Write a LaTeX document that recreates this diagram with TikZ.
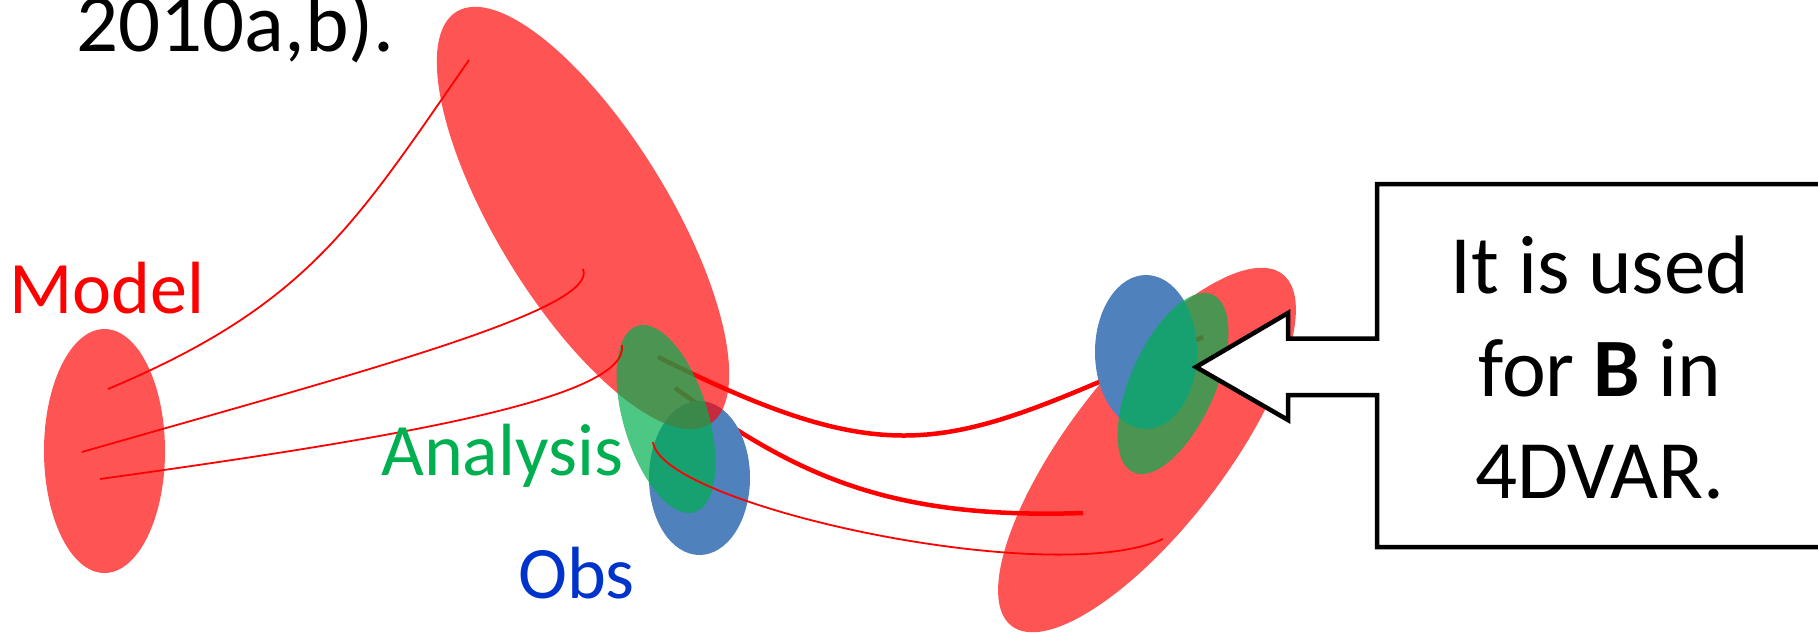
\documentclass[tikz,border=0pt]{standalone}
\usepackage{fontspec}
\setmainfont{Carlito}
\definecolor{obsblue}{HTML}{4F81BD}
\definecolor{anagreen}{HTML}{00B050}
\definecolor{obstext}{HTML}{0033CC}
\tikzset{
  modelfill/.style={fill=red, fill opacity=0.67},
  obsfill/.style={fill=obsblue},
  anafill/.style={fill=anagreen, fill opacity=0.7},
  thinlink/.style={draw=red, line width=1.8pt},
  thicklink/.style={draw=red, line width=4.5pt},
  calloutbox/.style={draw=black, fill=white, line width=4.5pt, miter limit=10},
  lbl/.style={inner sep=0pt, anchor=base west, font=\fontsize{74}{80}\selectfont},
  boxtxt/.style={inner sep=0pt, anchor=base, font=\fontsize{83}{90}\selectfont},
}
\begin{document}
\begin{tikzpicture}[x=1pt,y=-1pt]
\useasboundingbox (0,0) rectangle (1818,633);
\clip (0,0) rectangle (1818,633);

% end points of the trajectories
\coordinate (a0) at (108,389);   \coordinate (a1) at (469,60);
\coordinate (b0) at (82,452);    \coordinate (b1) at (583,269);
\coordinate (c0) at (100,479);   \coordinate (c1) at (622,345);
\coordinate (d0) at (653,442);   \coordinate (d1) at (1163,539);
\coordinate (e0) at (658,357);   \coordinate (e1) at (1203,337);
\coordinate (f0) at (675,388);   \coordinate (f1) at (1083,513);

% initial model ensemble
\fill[modelfill] (104.5,451) ellipse [x radius=60.5pt, y radius=122pt];

% thick trajectories from the analysis
\draw[thicklink] (e0) .. controls (908,482) and (953,444.5) .. (e1);
\draw[thicklink] (f0) .. controls (790,470) and (880,520) .. (f1);

% first analysis time: obs, forecast, analysis
\fill[obsfill] (699.5,478) ellipse [x radius=50.5pt, y radius=77pt];
\fill[modelfill, rotate around={-58.5:(583,218)}] (583,218) ellipse [x radius=242pt, y radius=86pt];
\fill[anafill, rotate around={-73:(666,419)}] (666,419) ellipse [x radius=97.5pt, y radius=42.3pt];

% second analysis time
\fill[modelfill, rotate around={52.4:(1147,450)}] (1147,450) ellipse [x radius=222pt, y radius=78pt];
\fill[obsfill] (1146,352) ellipse [x radius=51pt, y radius=77pt];
\fill[anafill, rotate around={66:(1173,383.5)}] (1173,383.5) ellipse [x radius=97.3pt, y radius=42.5pt];

% thin trajectories
\draw[thinlink] (a0) .. controls (308,305) and (355,224) .. (a1);
\draw[thinlink] (b0) .. controls (350,375) and (600,310) .. (b1);
\draw[thinlink] (c0) .. controls (380,440) and (630,400) .. (c1);
\draw[thinlink] (d0) .. controls (660,505) and (1050,590) .. (d1);

% callout box with arrow
\filldraw[calloutbox] (1840,184) -- (1377,184) -- (1377,338.5) -- (1288,338.5)
  -- (1288,313) -- (1196,367) -- (1288,420) -- (1288,395) -- (1377,395)
  -- (1377,547) -- (1840,547) -- cycle;

% labels
\node[lbl, text=black, font=\fontsize{83}{90}\selectfont] (cite) at (76,51) {2010a,b).};
\node[lbl, text=red] (model) at (9,313) {Model};
\node[lbl, text=anagreen] (analysis) at (381,475) {Analysis};
\node[lbl, text=obstext] (obs) at (518,598) {Obs};
\node[boxtxt] (line1) at (1600,293) {It is used};
\node[boxtxt] (line2) at (1600,396) {for \textbf{B} in};
\node[boxtxt] (line3) at (1600,498) {4DVAR.};
\end{tikzpicture}
\end{document}
